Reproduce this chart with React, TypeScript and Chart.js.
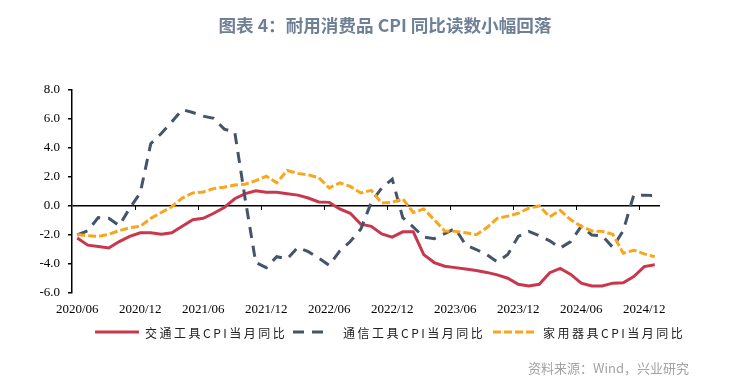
import React, { useEffect, useRef } from "react";
import { Chart, registerables } from "chart.js";

Chart.register(...registerables);

const months = [
  "2020/06", "2020/07", "2020/08", "2020/09", "2020/10", "2020/11", "2020/12",
  "2021/01", "2021/02", "2021/03", "2021/04", "2021/05", "2021/06", "2021/07", "2021/08", "2021/09", "2021/10", "2021/11", "2021/12",
  "2022/01", "2022/02", "2022/03", "2022/04", "2022/05", "2022/06", "2022/07", "2022/08", "2022/09", "2022/10", "2022/11", "2022/12",
  "2023/01", "2023/02", "2023/03", "2023/04", "2023/05", "2023/06", "2023/07", "2023/08", "2023/09", "2023/10", "2023/11", "2023/12",
  "2024/01", "2024/02", "2024/03", "2024/04", "2024/05", "2024/06", "2024/07", "2024/08", "2024/09", "2024/10", "2024/11", "2024/12",
  "2025/01",
];

const transport = [
  -2.2, -2.7, -2.8, -2.9, -2.45, -2.1, -1.85, -1.85, -1.95, -1.85,
  -1.4, -0.95, -0.85, -0.5, -0.1, 0.5, 0.85, 1.05, 0.95, 0.95,
  0.85, 0.75, 0.55, 0.28, 0.25, -0.2, -0.5, -1.25, -1.4, -1.93,
  -2.15, -1.78, -1.78, -3.35, -3.9, -4.15, -4.25, -4.35, -4.45, -4.58,
  -4.75, -4.98, -5.4, -5.52, -5.4, -4.6, -4.3, -4.72, -5.32, -5.52,
  -5.52, -5.32, -5.3, -4.86, -4.18, -4.05,
];

const telecom = [
  -2.0, -1.7, -0.8, -0.85, -1.35, -0.15, 0.9, 4.3, 5.0, 5.8,
  6.65, 6.45, 6.2, 6.05, 5.3, 5.1, 0.45, -3.9, -4.25, -3.5,
  -3.65, -2.85, -3.15, -3.6, -4.1, -3.1, -2.45, -1.6, 0.25, 1.25,
  1.85, -0.8, -1.45, -2.15, -2.25, -1.9, -1.55, -2.7, -3.0, -3.35,
  -3.85, -3.35, -2.1, -1.75, -2.05, -2.4, -2.9, -2.45, -1.4, -2.0,
  -2.05, -2.85, -1.7, 0.75, 0.75, 0.72,
];

const appliance = [
  -1.97, -2.05, -2.1, -1.95, -1.7, -1.5, -1.4, -0.85, -0.45, -0.05,
  0.55, 0.9, 0.97, 1.2, 1.3, 1.45, 1.5, 1.75, 2.05, 1.6,
  2.45, 2.25, 2.15, 1.95, 1.25, 1.6, 1.35, 0.9, 1.08, 0.2,
  0.25, 0.5, -0.45, -0.2, -0.95, -1.72, -1.75, -1.85, -1.98, -1.5,
  -0.85, -0.7, -0.5, -0.15, 0.0, -0.75, -0.3, -0.95, -1.4, -1.72,
  -1.75, -1.95, -3.25, -3.05, -3.3, -3.5,
];

const seriesNames = ["交通工具CPI当月同比", "通信工具CPI当月同比", "家用器具CPI当月同比"];
const titleText = "图表 4：耐用消费品 CPI 同比读数小幅回落";
const sourceText = "资料来源：Wind，兴业研究";

const RED = "#C8374C";
const BLUE = "#44546A";
const ORANGE = "#F9A61C";

const serif = '"Liberation Serif", "Times New Roman", serif';
const cjk = '"Noto Sans CJK SC", "Noto Sans", sans-serif';

const decorPlugin = {
  id: "decor",
  afterDraw(chart: any) {
    const ctx = chart.ctx as CanvasRenderingContext2D;
    const xs = chart.scales.x;
    const ys = chart.scales.y;
    const y0 = ys.getPixelForValue(0);

    // tick marks on the zero line, between categories every 6 months
    ctx.save();
    ctx.strokeStyle = "#000";
    ctx.lineWidth = 1;
    for (let i = 6; i < months.length; i += 6) {
      const x = Math.round((xs.getPixelForValue(i - 1) + xs.getPixelForValue(i)) / 2) + 0.5;
      ctx.beginPath();
      ctx.moveTo(x, y0);
      ctx.lineTo(x, y0 + 4);
      ctx.stroke();
    }
    ctx.restore();

    // title
    ctx.save();
    ctx.font = `bold 17.6px ${cjk}`;
    ctx.fillStyle = "#6E7F96";
    ctx.textAlign = "center";
    ctx.textBaseline = "middle";
    ctx.fillText(titleText, 385, 25);
    ctx.restore();

    // legend
    const starts = [95, 293, 493];
    const lens = [44, 32, 44];
    const ly = 332;
    chart.data.datasets.forEach((ds: any, i: number) => {
      const sx = starts[i];
      ctx.save();
      ctx.strokeStyle = ds.borderColor;
      ctx.lineWidth = 3;
      ctx.setLineDash(ds.borderDash || []);
      ctx.beginPath();
      ctx.moveTo(sx, ly);
      ctx.lineTo(sx + lens[i], ly);
      ctx.stroke();
      ctx.setLineDash([]);
      ctx.font = `12px ${cjk}`;
      (ctx as any).letterSpacing = "2.5px";
      ctx.fillStyle = "#222";
      ctx.textAlign = "left";
      ctx.textBaseline = "middle";
      ctx.fillText(ds.label, sx + 50, ly + 1);
      ctx.restore();
    });

    // source
    ctx.save();
    ctx.font = `13px ${cjk}`;
    ctx.fillStyle = "#A3A3A3";
    ctx.textAlign = "right";
    ctx.textBaseline = "middle";
    ctx.fillText(sourceText, 689, 368);
    ctx.restore();
  },
};

export default function App() {
  const ref = useRef<HTMLCanvasElement | null>(null);

  useEffect(() => {
    if (!ref.current) return;
    const chart = new Chart(ref.current, {
      type: "line",
      data: {
        labels: months,
        datasets: [
          { label: seriesNames[0], data: transport, borderColor: RED, backgroundColor: RED, borderWidth: 3, pointRadius: 0, tension: 0, order: 3 },
          { label: seriesNames[1], data: telecom, borderColor: BLUE, backgroundColor: BLUE, borderWidth: 3, borderDash: [11, 8], pointRadius: 0, tension: 0, order: 2 },
          { label: seriesNames[2], data: appliance, borderColor: ORANGE, backgroundColor: ORANGE, borderWidth: 3, borderDash: [8, 3], pointRadius: 0, tension: 0, order: 1 },
        ],
      },
      options: {
        responsive: false,
        animation: false,
        events: [],
        layout: { padding: { left: 0, right: 69, top: 90, bottom: 65 } },
        plugins: {
          legend: { display: false },
          title: { display: false },
          tooltip: { enabled: false },
        },
        scales: {
          x: {
            type: "category",
            offset: true,
            grid: { display: false, drawTicks: false, offset: true },
            border: { display: false },
            ticks: {
              autoSkip: false,
              maxRotation: 0,
              minRotation: 0,
              padding: 9,
              color: "#000",
              font: { family: serif, size: 13 },
              callback: (_v: any, i: number) => (i % 6 === 0 ? months[i] : null),
            },
            afterFit: (s: any) => {
              s.height = 30;
            },
          },
          y: {
            min: -6,
            max: 8,
            ticks: {
              stepSize: 2,
              padding: 8,
              color: "#000",
              font: { family: serif, size: 13 },
              callback: (v: any) => Number(v).toFixed(1),
            },
            grid: {
              drawOnChartArea: true,
              drawTicks: true,
              tickLength: 4,
              color: (c: any) => (c.tick && c.tick.value === 0 ? "#000" : "rgba(0,0,0,0)"),
              tickColor: "#000",
              lineWidth: 1.5,
            },
            border: { display: true, color: "#000", width: 1.5 },
            afterFit: (s: any) => {
              s.width = 72;
            },
          },
        },
      },
      plugins: [decorPlugin],
    } as any);
    return () => chart.destroy();
  }, []);

  return (
    <div style={{ position: "absolute", left: 0, top: 0, width: 729, height: 388, background: "#fff" }}>
      <canvas ref={ref} width={729} height={388} style={{ display: "block", width: 729, height: 388 }} />
    </div>
  );
}
